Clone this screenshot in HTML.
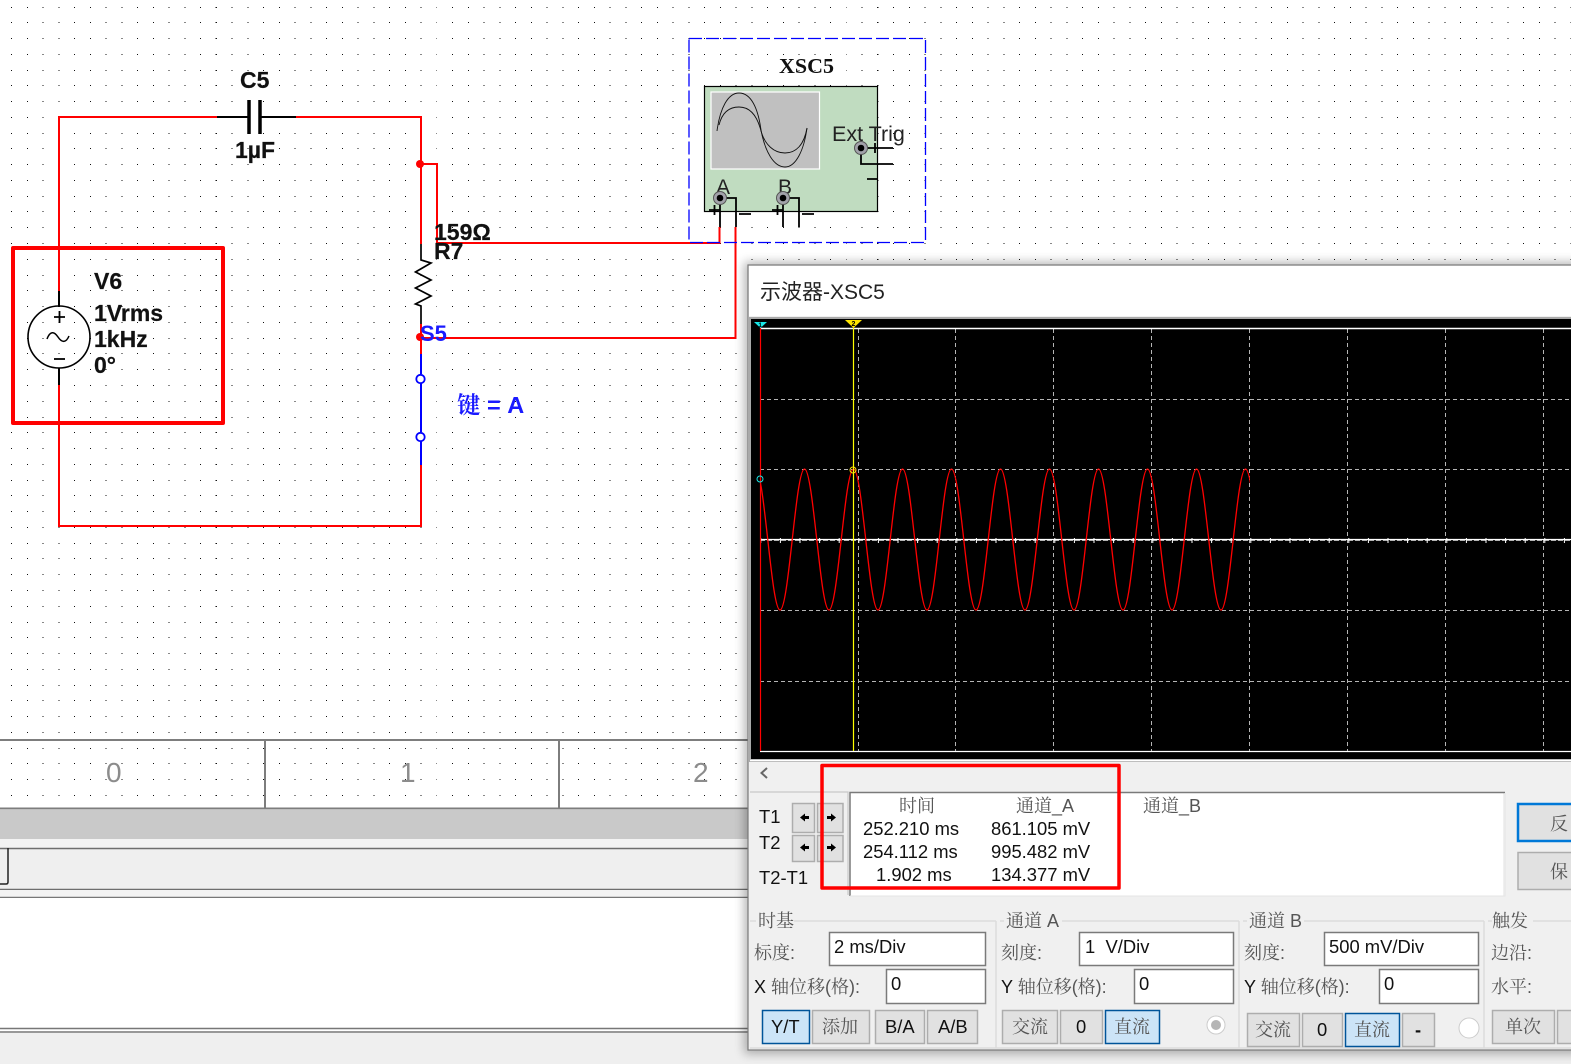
<!DOCTYPE html>
<html lang="zh"><head><meta charset="utf-8"><title>示波器-XSC5</title>
<style>
html,body{margin:0;padding:0;background:#fff;width:1571px;height:1064px;overflow:hidden}
svg{display:block}
text{font-family:"Liberation Sans","Noto Serif CJK SC",sans-serif;white-space:pre}
.b{font-weight:bold;font-size:23px;fill:#111;stroke:#111;stroke-width:.2}
.t{font-size:18.400px;fill:#111}
.c{font-size:18px;fill:#555}
.btn{fill:#e1e1e1;stroke:#adadad;stroke-width:1.5}
.sel{fill:#cce4f7;stroke:#005499;stroke-width:1.5}
.in{fill:#fff;stroke:#7a7a7a;stroke-width:1.5}
.gl{fill:none;stroke:#dcdcdc;stroke-width:1.5}
</style></head><body>
<svg width="1571" height="1064" viewBox="0 0 1571 1064" xmlns="http://www.w3.org/2000/svg">
<defs>
<clipPath id="wc"><rect x="760" y="329" width="490" height="421"/></clipPath>
<filter id="sh" x="-5%" y="-5%" width="110%" height="110%"><feGaussianBlur stdDeviation="5"/></filter>
</defs>
<rect width="1571" height="1064" fill="#fff"/>
<!-- dot grid -->
<path shape-rendering="crispEdges" fill="none" stroke="#111" stroke-width="1" stroke-dasharray="1 14.75" d="M11 7.5H1571M11 22.5H1571M11 38.5H1571M11 54.5H1571M11 70.5H1571M11 85.5H1571M11 101.5H1571M11 117.5H1571M11 133.5H1571M11 148.5H1571M11 164.5H1571M11 180.5H1571M11 196.5H1571M11 211.5H1571M11 227.5H1571M11 243.5H1571M11 259.5H1571M11 275.5H1571M11 290.5H1571M11 306.5H1571M11 322.5H1571M11 338.5H1571M11 353.5H1571M11 369.5H1571M11 385.5H1571M11 401.5H1571M11 417.5H1571M11 432.5H1571M11 448.5H1571M11 464.5H1571M11 480.5H1571M11 495.5H1571M11 511.5H1571M11 527.5H1571M11 543.5H1571M11 558.5H1571M11 574.5H1571M11 590.5H1571M11 606.5H1571M11 622.5H1571M11 637.5H1571M11 653.5H1571M11 669.5H1571M11 685.5H1571M11 700.5H1571M11 716.5H1571M11 732.5H1571M11 748.5H1571M11 763.5H1571M11 779.5H1571M11 795.5H1571"/>

<!-- ruler -->
<path d="M0 740H760M0 808.5H760" stroke="#7d7d7d" stroke-width="2" fill="none"/>
<path d="M265 740V808M559 740V808" stroke="#7d7d7d" stroke-width="2" fill="none"/>
<text x="106" y="782" fill="#8c8c8c" font-size="28">0</text>
<text x="400" y="782" fill="#8c8c8c" font-size="28">1</text>
<text x="693" y="782" fill="#8c8c8c" font-size="28">2</text>
<!-- lower app panels -->
<rect x="0" y="810" width="760" height="29" fill="#c9c9c9"/>
<rect x="0" y="839" width="760" height="9" fill="#f3f3f3"/>
<rect x="0" y="848" width="760" height="41" fill="#efefef"/>
<path d="M0 848.5H760M0 889.5H760" stroke="#6e6e6e" stroke-width="1.5"/>
<rect x="0" y="890" width="760" height="7" fill="#f3f3f3"/>
<path d="M0 897.5H760" stroke="#777" stroke-width="1.5"/>
<rect x="0" y="898" width="760" height="130" fill="#fff"/>
<path d="M0 1028.5H760M0 1032H760" stroke="#777" stroke-width="1.5"/>
<rect x="0" y="1033" width="1571" height="31" fill="#efefef"/>
<path d="M0 884H6Q8 884 8 882V848" fill="none" stroke="#222" stroke-width="1.5"/>

<!-- circuit wires -->
<g fill="none" stroke="#ff0000" stroke-width="2">
<path d="M217 117H59V291M296 117H421V244M421 164H437V243H719.500V227M735.500 227V338H421M421 324V354M421 465V526H59V385"/>
</g>
<circle cx="420" cy="164" r="4" fill="#f00"/>
<circle cx="420" cy="337" r="4" fill="#f00"/>
<!-- capacitor -->
<g fill="none" stroke="#000">
<path d="M217 117H249M260 117H296" stroke-width="2"/>
<path d="M249 100V134M260 100V134" stroke-width="3.500"/>
</g>
<!-- resistor -->
<path d="M421 244V260L431 263L415.500 272L431 280L415.500 288L431 296L415.500 304L421 306V324" fill="none" stroke="#000" stroke-width="1.700"/>
<!-- switch -->
<path d="M421 354V374M421 383V432M421 441V465" stroke="#0000ff" stroke-width="2" fill="none"/>
<circle cx="420.500" cy="379" r="4.200" fill="#fff" stroke="#0000ff" stroke-width="1.800"/>
<circle cx="420.500" cy="437" r="4.200" fill="#fff" stroke="#0000ff" stroke-width="1.800"/>
<!-- source -->
<g fill="none" stroke="#000">
<path d="M59 291V307M59 368V385" stroke-width="2"/>
<circle cx="59" cy="337" r="31" stroke-width="1.600"/>
<path d="M54 317H65M59.500 311V323" stroke-width="1.800"/>
<path d="M54 359H65" stroke-width="1.800"/>
<path d="M47 339C50 331 54 331 58 337C62 343 66 343 69 336" stroke-width="1.500"/>
</g>
<!-- labels -->
<text class="b" x="240" y="88">C5</text>
<text class="b" x="235" y="158">1µF</text>
<text class="b" x="434" y="240">159Ω</text>
<text class="b" x="434" y="259">R7</text>
<text class="b" x="94" y="289">V6</text>
<text class="b" x="94" y="321">1Vrms</text>
<text class="b" x="94" y="347">1kHz</text>
<text class="b" x="94" y="373">0°</text>
<text x="420" y="341" font-size="22" font-weight="bold" fill="#1a1aff">S5</text>
<text x="457" y="413" font-size="23.500" font-weight="bold" fill="#1a1aff">键 = A</text>
<!-- highlighted source box -->
<rect x="13" y="248" width="210" height="175" fill="none" stroke="#ff0000" stroke-width="4" stroke-linejoin="round"/>

<!-- XSC5 -->
<rect x="689" y="38.500" width="236.500" height="204" fill="none" stroke="#0000ff" stroke-width="1.300" stroke-dasharray="13 4"/>
<text x="779" y="73" font-size="21" font-weight="bold" fill="#111" textLength="55" lengthAdjust="spacingAndGlyphs" style="font-family:'Liberation Serif',serif">XSC5</text>
<rect x="704.500" y="86.500" width="173" height="125" fill="#c0dcc0" stroke="#000" stroke-width="1.200"/>
<rect x="711" y="92" width="108.500" height="77" fill="#c0c0c0" stroke="#fff" stroke-width="1.200"/>
<g fill="none" stroke="#111" stroke-width=".9">
<path d="M717 131C720 108 728 93 739 93C751 93 758 108 761 130C765 152 774 167 785 167C796 167 804 150 807 128"/>
<path d="M719 125C722 113 729 107 739 107C750 107 757 115 761 131C765 145 774 153 785 153C796 153 804 145 807 128"/>
</g>
<text x="716" y="194" font-size="21" fill="#222">A</text>
<text x="778" y="194" font-size="21" fill="#222">B</text>
<text x="832" y="141" font-size="21.500" fill="#222">Ext Trig</text>
<g fill="none" stroke="#000" stroke-width="1.800">
<path d="M720 198V227M720 198H736V227M709 210H720M714.500 205V215M739 214H751"/>
<path d="M783 198V227M783 198H799V227M772 210H783M777.500 205V215M802 214H814"/>
<path d="M861 148H893M861 148V164H893M875 143V153M867 179H878"/>
</g>
<g fill="#a2a2aa" stroke="#555" stroke-width="1">
<circle cx="720" cy="198" r="6.500"/><circle cx="783" cy="198" r="6.500"/><circle cx="861" cy="148" r="6.500"/>
</g>
<circle cx="720" cy="198" r="3.300" fill="#000"/><circle cx="783" cy="198" r="3.300" fill="#000"/><circle cx="861" cy="148" r="3.300" fill="#000"/>

<!-- dialog -->
<rect x="744" y="262" width="840" height="792" fill="#000" opacity=".28" filter="url(#sh)"/>
<rect x="748" y="265" width="830" height="785" fill="#f0f0f0" stroke="#7a7a7a" stroke-width="1.200"/>
<rect x="749" y="266" width="822" height="50" fill="#fff"/>
<text x="760" y="299" font-size="21" fill="#222" style="font-family:'Liberation Sans','Noto Sans CJK SC',sans-serif">示波器-XSC5</text>
<!-- scope -->
<rect x="749" y="317" width="822" height="445" fill="#a9a9a9"/>
<rect x="751" y="319" width="820" height="440" fill="#000"/>
<path d="M750 760.500H1571" stroke="#fff" stroke-width="1.500"/>
<g fill="none" stroke="#b5b5b5" stroke-width="1" stroke-dasharray="4 3">
<path d="M858.500 329V751M955.500 329V751M1053.500 329V751M1151.500 329V751M1249.500 329V751M1347.500 329V751M1445.500 329V751M1543.500 329V751"/>
<path d="M760 399.500H1571M760 469.500H1571M760 610.500H1571M760 681.500H1571"/>
</g>
<path d="M760 540.500H1571" stroke="#aaa" stroke-width="1" stroke-dasharray="5 2" fill="none"/>
<path d="M760 539.500H1571" stroke="#fff" stroke-width="1.200" fill="none"/>
<path d="M760.300 540.500H1571" stroke="#fff" stroke-width="5" stroke-dasharray="1 18.600" fill="none"/>
<path d="M760 328.500H1571" stroke="#fff" stroke-width="1.500"/>
<path d="M760 751.500H1571" stroke="#fff" stroke-width="1.200"/>
<path clip-path="url(#wc)" fill="none" stroke="#f00" stroke-width="1.300" d="M755.500 469c8.900 0 15.600 141 24.500 141s15.600-141 24.500-141c8.900 0 15.600 141 24.500 141s15.600-141 24.500-141c8.900 0 15.600 141 24.500 141s15.600-141 24.500-141c8.900 0 15.600 141 24.500 141s15.600-141 24.500-141c8.900 0 15.600 141 24.500 141s15.600-141 24.500-141c8.900 0 15.600 141 24.500 141s15.600-141 24.500-141c8.900 0 15.600 141 24.500 141s15.600-141 24.500-141c8.900 0 15.600 141 24.500 141s15.600-141 24.500-141c8.900 0 15.600 141 24.500 141s15.600-141 24.500-141c8.900 0 15.600 141 24.500 141s15.600-141 24.500-141c8.900 0 15.600 141 24.500 141s15.600-141 24.500-141"/>
<path d="M760.500 328V751" stroke="#f00" stroke-width="1.200"/>
<path d="M853.500 328V751" stroke="#ff0" stroke-width="1.200"/>
<path d="M754 322H767L760.500 328Z" fill="#19e6e6"/>
<path d="M845 320H862L853.500 328Z" fill="#ffe600"/>
<text x="758.500" y="327" font-size="6" font-weight="bold" fill="#000">1</text>
<text x="851.500" y="326" font-size="7" font-weight="bold" fill="#000">2</text>
<circle cx="760" cy="479" r="3" fill="none" stroke="#19e6e6"/>
<circle cx="853" cy="470" r="3" fill="none" stroke="#ffe600"/>

<!-- cursor readout -->
<path d="M767 768L761.500 773L767 778" fill="none" stroke="#666" stroke-width="2"/>
<path d="M750 792H848V895" fill="none" stroke="#c8c8c8" stroke-width="1.200"/>
<text class="t" x="759" y="823">T1</text>
<text class="t" x="759" y="849">T2</text>
<text class="t" x="759" y="884">T2-T1</text>
<rect class="btn" x="792.500" y="803.500" width="22" height="29"/>
<rect class="btn" x="817.500" y="803.500" width="25.500" height="29"/>
<rect class="btn" x="792.500" y="835.500" width="22" height="26"/>
<rect class="btn" x="817.500" y="835.500" width="25.500" height="26"/>
<g fill="#000">
<path d="M800 817.500l5-4v2.500h4v3h-4v2.500zM836 817.500l-5-4v2.500h-4v3h4v2.500z"/>
<path d="M800 847.500l5-4v2.500h4v3h-4v2.500zM836 847.500l-5-4v2.500h-4v3h4v2.500z"/>
</g>
<rect x="850" y="792" width="653" height="104" fill="#fff"/>
<path d="M850 896V792.500H1505" fill="none" stroke="#7a7a7a" stroke-width="1.500"/>
<path d="M1505 793V896H850" fill="none" stroke="#e5e5e5" stroke-width="1"/>
<text class="c" x="899" y="812">时间</text>
<text class="c" x="1016" y="812">通道_A</text>
<text class="c" x="1143" y="812">通道_B</text>
<text class="t" x="863" y="835">252.210 ms</text>
<text class="t" x="863" y="858">254.112 ms</text>
<text class="t" x="876" y="881">1.902 ms</text>
<text class="t" x="991" y="835">861.105 mV</text>
<text class="t" x="991" y="858">995.482 mV</text>
<text class="t" x="991" y="881">134.377 mV</text>
<rect x="822" y="765.500" width="297" height="122.500" fill="none" stroke="#ff0000" stroke-width="3.500" stroke-linejoin="round"/>
<rect x="1518" y="804" width="60" height="37" fill="#e1e1e1" stroke="#0078d7" stroke-width="2.500"/>
<rect class="btn" x="1518" y="852.500" width="60" height="37"/>
<text class="c" x="1550" y="830">反</text>
<text class="c" x="1550" y="878">保</text>

<!-- groups -->
<path class="gl" d="M750 921H756M794 921H996M996 921V1048M1062 921H1239M1239 921V1048M1304 921H1484M1484 921V1048M1533 921H1571M1000 921H1004M1243 921H1247M1488 921H1492M750 1048H1571"/>
<text class="c" x="758" y="927">时基</text>
<text class="c" x="1006" y="927">通道 A</text>
<text class="c" x="1249" y="927">通道 B</text>
<text class="c" x="1492" y="927">触发</text>
<text class="c" x="754" y="959">标度:</text>
<text class="c" x="1001" y="959">刻度:</text>
<text class="c" x="1244" y="959">刻度:</text>
<text class="c" x="1491" y="959">边沿:</text>
<text class="c" x="1491" y="993">水平:</text>
<text class="c" x="754" y="993"><tspan fill="#111">X</tspan> 轴位移(格):</text>
<text class="c" x="1001" y="993"><tspan fill="#111">Y</tspan> 轴位移(格):</text>
<text class="c" x="1244" y="993"><tspan fill="#111">Y</tspan> 轴位移(格):</text>
<rect class="in" x="829.500" y="932.500" width="156" height="33"/>
<rect class="in" x="886.500" y="969.500" width="99" height="34"/>
<rect class="in" x="1079.500" y="932.500" width="154" height="33"/>
<rect class="in" x="1134.500" y="969.500" width="99" height="34"/>
<rect class="in" x="1324.500" y="932.500" width="154" height="33"/>
<rect class="in" x="1379.500" y="969.500" width="99" height="34"/>
<text class="t" x="834" y="953">2 ms/Div</text>
<text class="t" x="891" y="990">0</text>
<text class="t" x="1085" y="953">1  V/Div</text>
<text class="t" x="1139" y="990">0</text>
<text class="t" x="1329" y="953">500 mV/Div</text>
<text class="t" x="1384" y="990">0</text>
<!-- buttons -->
<rect class="sel" x="762.500" y="1010.500" width="47" height="33"/>
<rect class="btn" x="812.500" y="1010.500" width="57" height="33"/>
<rect class="btn" x="875.500" y="1010.500" width="49" height="33"/>
<rect class="btn" x="927.500" y="1010.500" width="50" height="33"/>
<text class="t" x="771" y="1033">Y/T</text>
<text class="c" x="822" y="1033">添加</text>
<text class="t" x="885" y="1033">B/A</text>
<text class="t" x="938" y="1033">A/B</text>
<rect class="btn" x="1002.500" y="1010.500" width="55" height="33"/>
<rect class="btn" x="1060.500" y="1010.500" width="42" height="33"/>
<rect class="sel" x="1105.500" y="1010.500" width="54" height="33"/>
<text class="c" x="1012" y="1033">交流</text>
<text class="t" x="1076" y="1033">0</text>
<text class="c" x="1114" y="1033">直流</text>
<circle cx="1216" cy="1025" r="9" fill="#fff" stroke="#ccc"/>
<circle cx="1216" cy="1025" r="5" fill="#b5b5b5"/>
<rect class="btn" x="1247.500" y="1013.500" width="52" height="33"/>
<rect class="btn" x="1302.500" y="1013.500" width="40" height="33"/>
<rect class="sel" x="1345.500" y="1013.500" width="54" height="33"/>
<rect class="btn" x="1402.500" y="1013.500" width="32" height="33"/>
<text class="c" x="1255" y="1036">交流</text>
<text class="t" x="1317" y="1036">0</text>
<text class="c" x="1354" y="1036">直流</text>
<text class="t" x="1415" y="1036" font-weight="bold">-</text>
<circle cx="1469" cy="1028" r="10" fill="#fff" stroke="#ccc"/>
<rect class="btn" x="1492.500" y="1010.500" width="62" height="33"/>
<rect class="btn" x="1557.500" y="1010.500" width="20" height="33"/>
<text class="c" x="1505" y="1033">单次</text>
</svg>
</body></html>
